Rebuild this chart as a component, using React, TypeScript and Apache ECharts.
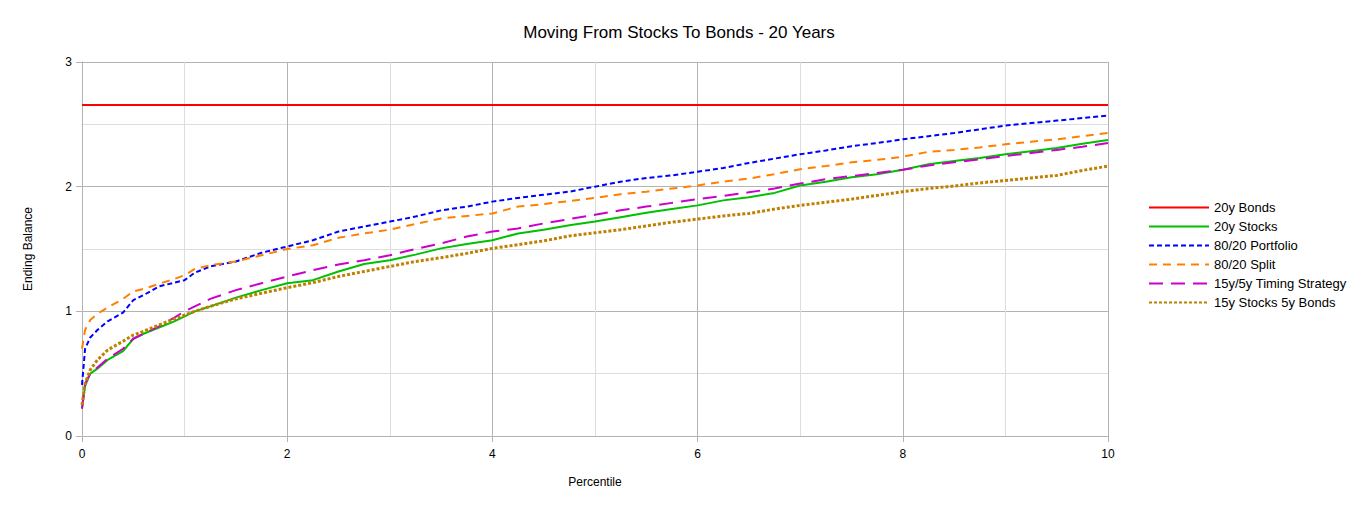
import React, { useEffect, useRef } from "react";
import * as echarts from "echarts";

const percentiles = [0, 0.03, 0.08, 0.15, 0.25, 0.4, 0.5, 0.6, 0.75, 0.9, 1.0, 1.1, 1.25, 1.5, 1.75, 2.0, 2.25, 2.5, 2.75, 3.0, 3.25, 3.5, 3.75, 4.0, 4.25, 4.5, 4.75, 5.0, 5.25, 5.5, 5.75, 6.0, 6.25, 6.5, 6.75, 7.0, 7.25, 7.5, 7.75, 8.0, 8.25, 8.5, 8.75, 9.0, 9.25, 9.5, 9.75, 10.0];

const bonds20 = percentiles.map(() => 2.655);

const stocks20 = [0.22, 0.40, 0.50, 0.54, 0.61, 0.68, 0.78, 0.82, 0.87, 0.92, 0.96, 1.00, 1.04, 1.11, 1.17, 1.225, 1.25, 1.32, 1.38, 1.41, 1.455, 1.505, 1.54, 1.57, 1.625, 1.655, 1.69, 1.72, 1.755, 1.79, 1.82, 1.85, 1.89, 1.915, 1.95, 2.01, 2.04, 2.075, 2.10, 2.135, 2.18, 2.205, 2.23, 2.26, 2.285, 2.31, 2.345, 2.375];

const portfolio8020 = [0.41, 0.70, 0.79, 0.85, 0.92, 0.99, 1.09, 1.13, 1.20, 1.23, 1.25, 1.31, 1.36, 1.40, 1.47, 1.52, 1.57, 1.64, 1.68, 1.72, 1.76, 1.81, 1.84, 1.88, 1.91, 1.935, 1.96, 2.00, 2.04, 2.07, 2.09, 2.12, 2.15, 2.19, 2.225, 2.26, 2.29, 2.325, 2.35, 2.38, 2.405, 2.43, 2.46, 2.49, 2.51, 2.53, 2.55, 2.57];

const split8020 = [0.70, 0.85, 0.93, 0.98, 1.03, 1.10, 1.16, 1.18, 1.22, 1.26, 1.29, 1.34, 1.37, 1.40, 1.45, 1.50, 1.53, 1.59, 1.625, 1.655, 1.70, 1.745, 1.765, 1.785, 1.84, 1.86, 1.885, 1.91, 1.94, 1.96, 1.985, 2.01, 2.04, 2.065, 2.10, 2.14, 2.165, 2.195, 2.215, 2.24, 2.28, 2.295, 2.315, 2.34, 2.36, 2.38, 2.405, 2.43];

const timing155 = [0.22, 0.42, 0.50, 0.55, 0.62, 0.70, 0.78, 0.82, 0.88, 0.95, 1.00, 1.04, 1.10, 1.17, 1.225, 1.28, 1.33, 1.375, 1.41, 1.45, 1.50, 1.545, 1.60, 1.64, 1.665, 1.705, 1.74, 1.775, 1.81, 1.84, 1.87, 1.90, 1.925, 1.955, 1.985, 2.025, 2.06, 2.085, 2.11, 2.135, 2.17, 2.195, 2.22, 2.245, 2.27, 2.295, 2.32, 2.35];

const stocks15bonds5 = [0.25, 0.42, 0.53, 0.61, 0.69, 0.76, 0.81, 0.84, 0.89, 0.94, 0.97, 1.00, 1.04, 1.10, 1.145, 1.19, 1.23, 1.28, 1.32, 1.36, 1.40, 1.43, 1.465, 1.505, 1.535, 1.565, 1.605, 1.63, 1.655, 1.685, 1.715, 1.74, 1.765, 1.785, 1.82, 1.85, 1.875, 1.90, 1.93, 1.96, 1.985, 2.005, 2.03, 2.05, 2.07, 2.09, 2.13, 2.165];

const seriesNames = ["20y Bonds", "20y Stocks", "80/20 Portfolio", "80/20 Split", "15y/5y Timing Strategy", "15y Stocks 5y Bonds"];

const FONT = "'Liberation Sans', Arial, sans-serif";

function pairs(ys: number[]) {
  return percentiles.map((x, i) => [x, ys[i]]);
}

export default function App() {
  const ref = useRef<HTMLDivElement>(null);
  useEffect(() => {
    if (!ref.current) return;
    const chart = echarts.init(ref.current, undefined, { renderer: "svg" });
    const mk = (name: string, data: number[], color: string, width: number, type: any) => ({
      name,
      type: "line",
      data: pairs(data),
      symbol: "none",
      showSymbol: false,
      lineStyle: { color, width, type, cap: "butt" },
      itemStyle: { color },
      emphasis: { disabled: true },
    });
    chart.setOption({
      animation: false,
      backgroundColor: "#ffffff",
      textStyle: { fontFamily: FONT },
      title: {
        text: "Moving From Stocks To Bonds - 20 Years",
        left: "center",
        top: 19,
        textStyle: { fontFamily: FONT, fontSize: 17, fontWeight: "normal", color: "#000" },
      },
      legend: {
        orient: "vertical",
        left: 1148,
        top: 201,
        padding: 0,
        itemWidth: 60,
        itemHeight: 14,
        itemGap: 6,
        itemStyle: { opacity: 0 },
        textStyle: { fontFamily: FONT, fontSize: 13, color: "#000", padding: [0, 0, 0, 0] },
        data: seriesNames,
      },
      grid: { left: 82, top: 62, right: 250, bottom: 73, containLabel: false },
      xAxis: {
        type: "value",
        min: 0,
        max: 10,
        interval: 2,
        name: "Percentile",
        nameLocation: "middle",
        nameGap: 40,
        nameTextStyle: { fontFamily: FONT, fontSize: 12, color: "#000" },
        axisLine: { show: true, lineStyle: { color: "#b3b3b3", width: 1 } },
        axisTick: { show: true, length: 6, lineStyle: { color: "#b3b3b3" } },
        axisLabel: { fontFamily: FONT, fontSize: 12, color: "#000", margin: 12 },
        splitLine: { show: true, lineStyle: { color: "#b3b3b3", width: 1 } },
        minorTick: { show: false, splitNumber: 2 },
        minorSplitLine: { show: true, lineStyle: { color: "#dddddd", width: 1 } },
      },
      yAxis: {
        type: "value",
        min: 0,
        max: 3,
        interval: 1,
        name: "Ending Balance",
        nameLocation: "middle",
        nameGap: 48,
        nameRotate: 90,
        nameTextStyle: { fontFamily: FONT, fontSize: 12, color: "#000" },
        axisLine: { show: true, lineStyle: { color: "#b3b3b3", width: 1 } },
        axisTick: { show: true, length: 6, lineStyle: { color: "#b3b3b3" } },
        axisLabel: { fontFamily: FONT, fontSize: 12, color: "#000", margin: 10 },
        splitLine: { show: true, lineStyle: { color: "#b3b3b3", width: 1 } },
        minorTick: { show: false, splitNumber: 2 },
        minorSplitLine: { show: true, lineStyle: { color: "#dddddd", width: 1 } },
      },
      series: [
        mk(seriesNames[0], bonds20, "#ff0000", 2, "solid"),
        mk(seriesNames[1], stocks20, "#00c000", 2, "solid"),
        mk(seriesNames[2], portfolio8020, "#0000ff", 2, [5, 3]),
        mk(seriesNames[3], split8020, "#ff8000", 2, [8, 6]),
        mk(seriesNames[4], timing155, "#cc00cc", 2, [14, 8]),
        mk(seriesNames[5], stocks15bonds5, "#bf8000", 3, [3, 2]),
      ],
    });
    return () => chart.dispose();
  }, []);
  return (
    <div
      ref={ref}
      style={{ position: "absolute", left: 0, top: 0, width: 1358, height: 509, background: "#fff" }}
    />
  );
}
